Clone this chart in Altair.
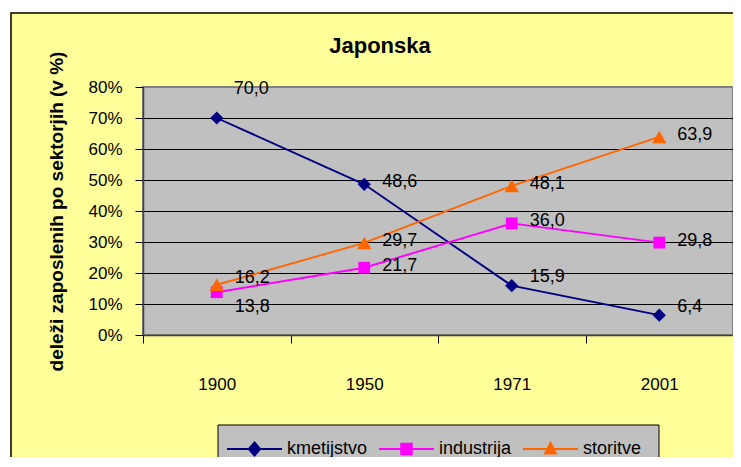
import altair as alt
import pandas as pd

# ---- data ----
years = ["1900", "1950", "1971", "2001"]
series = ["kmetijstvo", "industrija", "storitve"]
kmetijstvo = [70.0, 48.6, 15.9, 6.4]
industrija = [13.8, 21.7, 36.0, 29.8]
storitve = [16.2, 29.7, 48.1, 63.9]
y_ticks = [0, 10, 20, 30, 40, 50, 60, 70, 80]
colors = ["#000080", "#FF00FF", "#FF6600"]
shapes = ["diamond", "square", "triangle-up"]
point_sizes = [175, 140, 210]
title_text = "Japonska"

rows = []
for s, vals in zip(series, [kmetijstvo, industrija, storitve]):
    for yr, v in zip(years, vals):
        rows.append({"serija": s, "leto": yr, "delez": v,
                     "oznaka": f"{v:.1f}".replace(".", ",")})
df = pd.DataFrame(rows)

FONT = "Liberation Sans"
W, H = 590, 248

# label placement (style): (series, year) -> vertical offset in px
label_dy = {
    ("kmetijstvo", "1900"): -29,
    ("industrija", "1900"): 15,
    ("storitve", "1900"): -7,
    ("kmetijstvo", "1971"): -9,
    ("kmetijstvo", "2001"): -8,
}
default_dy = -2

x_enc = alt.X("leto:N", sort=years,
              scale=alt.Scale(paddingInner=0, paddingOuter=0),
              axis=alt.Axis(title=None, labelAngle=0, tickBand="extent",
                            labelPadding=33, labelFontSize=17))
y_enc = alt.Y("delez:Q", scale=alt.Scale(domain=[0, 80], nice=False),
              axis=alt.Axis(values=y_ticks, labelExpr="datum.value + '%'",
                            title="deleži zaposlenih po sektorjih (v %)",
                            titleFont=FONT, titleFontSize=19, titleFontWeight="bold",
                            titleColor="#000", titleX=-81, titleY=H / 2,
                            titleAngle=270, titleAlign="center",
                            titleBaseline="alphabetic",
                            labelPadding=13, labelFontSize=17,
                            gridColor={"condition": {"test": "datum.value == 80", "value": "#808080"},
                                       "value": "#000000"}))
col_scale = alt.Scale(domain=series, range=colors)

one = pd.DataFrame({"t": [title_text]})

white_top = alt.Chart(one).mark_rect(fill="white").encode(
    x=alt.value(-140), x2=alt.value(W + 40), y=alt.value(-90), y2=alt.value(-74.8))
white_left = alt.Chart(one).mark_rect(fill="white").encode(
    x=alt.value(-140), x2=alt.value(-132.8), y=alt.value(-90), y2=alt.value(H + 200))
frame = alt.Chart(one).mark_rect(fillOpacity=0, stroke="#000", strokeWidth=1.5).encode(
    x=alt.value(-132), x2=alt.value(W + 60), y=alt.value(-74), y2=alt.value(H + 200))
legend_box = alt.Chart(one).mark_rect(fill="#C0C0C0", stroke="#000", strokeWidth=1).encode(
    x=alt.value(75), x2=alt.value(516), y=alt.value(338), y2=alt.value(H + 160))
title = alt.Chart(one).mark_text(font=FONT, fontSize=22, fontWeight="bold", color="#000",
                                 align="center", baseline="alphabetic").encode(
    x=alt.value(237), y=alt.value(-34), text="t:N")

# legend symbols: a line with the marker in the middle
# (unit box -1..1 = 22 px; the line overflows it horizontally)
legend_paths = [
    "M-2.5,-0.09H2.5V0.09H-2.5Z M0,-0.73L0.64,0L0,0.73L-0.64,0Z",
    "M-2.5,-0.09H2.5V0.09H-2.5Z M-0.57,-0.57H0.57V0.57H-0.57Z",
    "M-2.5,-0.09H2.5V0.09H-2.5Z M0,-0.75L0.64,0.5L-0.64,0.5Z",
]
leg = alt.Legend(orient="none", legendX=91.5, legendY=342, direction="horizontal",
                 title=None, padding=9, symbolSize=484, symbolStrokeWidth=0, symbolOpacity=1,
                 labelFont=FONT, labelFontSize=18, labelColor="#000",
                 labelOffset=21.5, columnPadding=11)
legend_layer = alt.Chart(df).mark_point(filled=True, opacity=0).encode(
    x=x_enc, y=y_enc,
    color=alt.Color("serija:N", scale=col_scale, legend=leg),
    shape=alt.Shape("serija:N", scale=alt.Scale(domain=series, range=legend_paths), legend=leg),
)

lines = alt.Chart(df).mark_line(strokeWidth=1.9).encode(
    x=x_enc, y=y_enc, color=alt.Color("serija:N", scale=col_scale, legend=None))

points = []
for s, shp, sz in zip(series, shapes, point_sizes):
    points.append(
        alt.Chart(df).transform_filter(alt.datum.serija == s)
        .mark_point(filled=True, shape=shp, size=sz, opacity=1, strokeWidth=0)
        .encode(x=x_enc, y=y_enc, color=alt.Color("serija:N", scale=col_scale, legend=None))
    )

# text labels in groups by offset
label_layers = []
special = list(label_dy.keys())
default_test = " && ".join(
    f"!(datum.serija == '{s}' && datum.leto == '{y}')" for s, y in special)
label_layers.append(
    alt.Chart(df).transform_filter(default_test)
    .mark_text(align="left", baseline="middle", dx=18, dy=default_dy,
               fontSize=18, font=FONT, color="#000")
    .encode(x=x_enc, y=y_enc, text="oznaka:N"))
for (s, y), dy in label_dy.items():
    label_layers.append(
        alt.Chart(df).transform_filter(f"datum.serija == '{s}' && datum.leto == '{y}'")
        .mark_text(align="left", baseline="middle", dx=17 if dy < -20 else 18, dy=dy,
                   fontSize=18, font=FONT, color="#000")
        .encode(x=x_enc, y=y_enc, text="oznaka:N"))

chart = alt.layer(
    white_top, white_left, frame, legend_box, title, legend_layer, lines, *points, *label_layers
).properties(
    width=W, height=H,
    padding={"left": 135, "top": 79, "right": 0, "bottom": 122},
    autosize=alt.AutoSizeParams(type="none"),
).configure(
    background="#FFFF99", font=FONT
).configure_view(
    fill="#C0C0C0", stroke="#808080", strokeWidth=2
).configure_axis(
    labelFont=FONT, labelColor="#000", tickColor="#000", tickSize=8, tickWidth=1,
    domainColor="#404040", domainWidth=1.5, gridWidth=1
)

chart.save("out.html", embed_options={"renderer": "svg", "actions": False})
